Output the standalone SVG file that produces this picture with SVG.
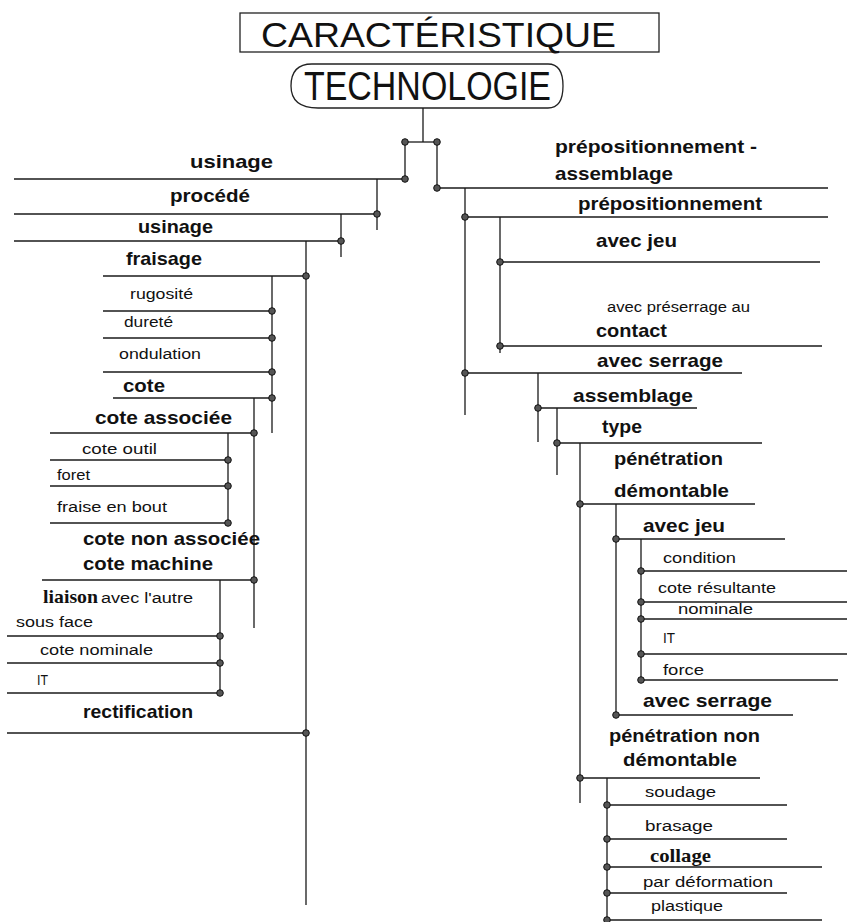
<svg xmlns="http://www.w3.org/2000/svg" width="847" height="922" viewBox="0 0 847 922">
<style>
.b{font-family:"Liberation Sans",Arial,sans-serif;font-weight:bold;font-size:18.5px;fill:#111}
.r{font-family:"Liberation Sans",Arial,sans-serif;font-size:15.5px;fill:#111}
.s{font-family:"Liberation Serif","Times New Roman",serif;font-weight:bold;font-size:19px;fill:#111}
.t{font-family:"Liberation Sans",Arial,sans-serif;fill:#111}
#connectors line{stroke:#1a1a1a;stroke-width:1.3}
#connectors circle{fill:#555;stroke:#111;stroke-width:1}
</style>
<rect width="847" height="922" fill="#fff"/>
<g id="title">
<rect x="240" y="13" width="419" height="39" fill="none" stroke="#222" stroke-width="1.3"/>
<text class="t" x="261" y="47" font-size="35" textLength="355" lengthAdjust="spacingAndGlyphs">CARACTÉRISTIQUE</text>
</g>
<g id="technologie">
<path d="M312,64 H548 Q563,64 563,86 Q563,108 548,108 H318 Q291,108 291,86 Q291,64 312,64 Z" fill="none" stroke="#222" stroke-width="1.3"/>
<text class="t" x="304" y="100" font-size="40" textLength="247" lengthAdjust="spacingAndGlyphs">TECHNOLOGIE</text>
</g>
<g id="connectors">
<line x1="423" y1="108" x2="423" y2="142"/>
<line x1="405" y1="142" x2="437" y2="142"/>
<line x1="405" y1="142" x2="405" y2="179"/>
<line x1="14" y1="179" x2="405" y2="179"/>
<line x1="14" y1="214" x2="377" y2="214"/>
<line x1="14" y1="241" x2="341" y2="241"/>
<line x1="103" y1="276" x2="306" y2="276"/>
<line x1="103" y1="311" x2="272" y2="311"/>
<line x1="103" y1="338" x2="272" y2="338"/>
<line x1="103" y1="372" x2="272" y2="372"/>
<line x1="113" y1="398" x2="272" y2="398"/>
<line x1="50" y1="433" x2="254" y2="433"/>
<line x1="50" y1="460" x2="228" y2="460"/>
<line x1="50" y1="486" x2="228" y2="486"/>
<line x1="50" y1="523" x2="228" y2="523"/>
<line x1="42" y1="580" x2="254" y2="580"/>
<line x1="7" y1="636" x2="220" y2="636"/>
<line x1="7" y1="663" x2="220" y2="663"/>
<line x1="7" y1="693" x2="220" y2="693"/>
<line x1="7" y1="733" x2="306" y2="733"/>
<line x1="377" y1="179" x2="377" y2="230"/>
<line x1="341" y1="214" x2="341" y2="257"/>
<line x1="306" y1="241" x2="306" y2="905"/>
<line x1="272" y1="276" x2="272" y2="433"/>
<line x1="254" y1="398" x2="254" y2="628"/>
<line x1="228" y1="433" x2="228" y2="523"/>
<line x1="220" y1="580" x2="220" y2="694"/>
<line x1="437" y1="142" x2="437" y2="188"/>
<line x1="437" y1="188" x2="828" y2="188"/>
<line x1="465" y1="188" x2="465" y2="415"/>
<line x1="465" y1="217" x2="828" y2="217"/>
<line x1="500" y1="217" x2="500" y2="353"/>
<line x1="500" y1="262" x2="820" y2="262"/>
<line x1="500" y1="346" x2="822" y2="346"/>
<line x1="465" y1="373" x2="742" y2="373"/>
<line x1="538" y1="373" x2="538" y2="442"/>
<line x1="538" y1="408" x2="697" y2="408"/>
<line x1="557" y1="408" x2="557" y2="475"/>
<line x1="557" y1="443" x2="762" y2="443"/>
<line x1="580" y1="443" x2="580" y2="803"/>
<line x1="580" y1="504" x2="755" y2="504"/>
<line x1="616" y1="504" x2="616" y2="715"/>
<line x1="616" y1="539" x2="785" y2="539"/>
<line x1="641" y1="539" x2="641" y2="680"/>
<line x1="641" y1="571" x2="847" y2="571"/>
<line x1="641" y1="602" x2="847" y2="602"/>
<line x1="641" y1="619" x2="847" y2="619"/>
<line x1="641" y1="654" x2="847" y2="654"/>
<line x1="641" y1="680" x2="838" y2="680"/>
<line x1="616" y1="715" x2="793" y2="715"/>
<line x1="580" y1="778" x2="760" y2="778"/>
<line x1="607" y1="778" x2="607" y2="922"/>
<line x1="607" y1="805" x2="787" y2="805"/>
<line x1="607" y1="839" x2="787" y2="839"/>
<line x1="607" y1="867" x2="822" y2="867"/>
<line x1="607" y1="893" x2="787" y2="893"/>
<line x1="607" y1="920" x2="822" y2="920"/>
<circle cx="405" cy="142" r="3.3"/><circle cx="437" cy="142" r="3.3"/>
<circle cx="405" cy="179" r="3.3"/><circle cx="377" cy="214" r="3.3"/>
<circle cx="341" cy="241" r="3.3"/><circle cx="306" cy="276" r="3.3"/>
<circle cx="272" cy="311" r="3.3"/><circle cx="272" cy="338" r="3.3"/>
<circle cx="272" cy="372" r="3.3"/><circle cx="272" cy="398" r="3.3"/>
<circle cx="254" cy="433" r="3.3"/><circle cx="228" cy="460" r="3.3"/>
<circle cx="228" cy="486" r="3.3"/><circle cx="228" cy="523" r="3.3"/>
<circle cx="254" cy="580" r="3.3"/><circle cx="220" cy="636" r="3.3"/>
<circle cx="220" cy="663" r="3.3"/><circle cx="220" cy="693" r="3.3"/>
<circle cx="306" cy="733" r="3.3"/>
<circle cx="437" cy="188" r="3.3"/><circle cx="465" cy="217" r="3.3"/>
<circle cx="500" cy="262" r="3.3"/><circle cx="500" cy="346" r="3.3"/>
<circle cx="465" cy="373" r="3.3"/><circle cx="538" cy="408" r="3.3"/>
<circle cx="557" cy="443" r="3.3"/><circle cx="580" cy="504" r="3.3"/>
<circle cx="616" cy="539" r="3.3"/><circle cx="641" cy="571" r="3.3"/>
<circle cx="641" cy="602" r="3.3"/><circle cx="641" cy="619" r="3.3"/>
<circle cx="641" cy="654" r="3.3"/><circle cx="641" cy="680" r="3.3"/>
<circle cx="616" cy="715" r="3.3"/><circle cx="580" cy="778" r="3.3"/>
<circle cx="607" cy="805" r="3.3"/><circle cx="607" cy="839" r="3.3"/>
<circle cx="607" cy="867" r="3.3"/><circle cx="607" cy="893" r="3.3"/>
<circle cx="607" cy="920" r="3.3"/>
</g>
<g id="n-usinage1"><text class="b" x="190" y="168" textLength="83" lengthAdjust="spacingAndGlyphs">usinage</text></g>
<g id="n-procede"><text class="b" x="170" y="202" textLength="80" lengthAdjust="spacingAndGlyphs">procédé</text></g>
<g id="n-usinage2"><text class="b" x="138" y="233" textLength="75" lengthAdjust="spacingAndGlyphs">usinage</text></g>
<g id="n-fraisage"><text class="b" x="126" y="265" textLength="76" lengthAdjust="spacingAndGlyphs">fraisage</text></g>
<g id="n-rugosite"><text class="r" x="130" y="299" textLength="63" lengthAdjust="spacingAndGlyphs">rugosité</text></g>
<g id="n-durete"><text class="r" x="124" y="327" textLength="49" lengthAdjust="spacingAndGlyphs">dureté</text></g>
<g id="n-ondulation"><text class="r" x="119" y="359" textLength="82" lengthAdjust="spacingAndGlyphs">ondulation</text></g>
<g id="n-cote"><text class="b" x="123" y="392" textLength="42" lengthAdjust="spacingAndGlyphs">cote</text></g>
<g id="n-cote-associee"><text class="b" x="95" y="424" textLength="137" lengthAdjust="spacingAndGlyphs">cote associée</text></g>
<g id="n-cote-outil"><text class="r" x="82" y="454" textLength="75" lengthAdjust="spacingAndGlyphs">cote outil</text></g>
<g id="n-foret"><text class="r" x="57" y="480" textLength="33" lengthAdjust="spacingAndGlyphs">foret</text></g>
<g id="n-fraise-en-bout"><text class="r" x="57" y="512" textLength="110" lengthAdjust="spacingAndGlyphs">fraise en bout</text></g>
<g id="n-cote-non-associee"><text class="b" x="83" y="545" textLength="177" lengthAdjust="spacingAndGlyphs">cote non associée</text></g>
<g id="n-cote-machine"><text class="b" x="83" y="570" textLength="130" lengthAdjust="spacingAndGlyphs">cote machine</text></g>
<g id="n-liaison"><text class="s" x="43" y="603" textLength="55" lengthAdjust="spacingAndGlyphs">liaison</text><text class="r" x="101" y="603" textLength="92" lengthAdjust="spacingAndGlyphs">avec l'autre</text><text class="r" x="16" y="627" textLength="77" lengthAdjust="spacingAndGlyphs">sous face</text></g>
<g id="n-cote-nominale"><text class="r" x="40" y="655" textLength="113" lengthAdjust="spacingAndGlyphs">cote nominale</text></g>
<g id="n-it1"><text class="r" x="37" y="685" textLength="11" lengthAdjust="spacingAndGlyphs">IT</text></g>
<g id="n-rectification"><text class="b" x="83" y="718" textLength="110" lengthAdjust="spacingAndGlyphs">rectification</text></g>
<g id="n-prepos-assemblage"><text class="b" x="555" y="153" textLength="202" lengthAdjust="spacingAndGlyphs">prépositionnement -</text><text class="b" x="555" y="180" textLength="118" lengthAdjust="spacingAndGlyphs">assemblage</text></g>
<g id="n-prepositionnement"><text class="b" x="578" y="210" textLength="184" lengthAdjust="spacingAndGlyphs">prépositionnement</text></g>
<g id="n-avec-jeu1"><text class="b" x="596" y="247" textLength="81" lengthAdjust="spacingAndGlyphs">avec jeu</text></g>
<g id="n-preserrage"><text class="r" x="607" y="312" textLength="143" lengthAdjust="spacingAndGlyphs">avec préserrage au</text><text class="b" x="596" y="337" textLength="71" lengthAdjust="spacingAndGlyphs">contact</text></g>
<g id="n-avec-serrage1"><text class="b" x="597" y="367" textLength="126" lengthAdjust="spacingAndGlyphs">avec serrage</text></g>
<g id="n-assemblage"><text class="b" x="573" y="402" textLength="120" lengthAdjust="spacingAndGlyphs">assemblage</text></g>
<g id="n-type"><text class="b" x="602" y="433" textLength="40" lengthAdjust="spacingAndGlyphs">type</text></g>
<g id="n-penetration-demontable"><text class="b" x="614" y="465" textLength="109" lengthAdjust="spacingAndGlyphs">pénétration</text><text class="b" x="614" y="497" textLength="115" lengthAdjust="spacingAndGlyphs">démontable</text></g>
<g id="n-avec-jeu2"><text class="b" x="643" y="532" textLength="82" lengthAdjust="spacingAndGlyphs">avec jeu</text></g>
<g id="n-condition"><text class="r" x="663" y="563" textLength="73" lengthAdjust="spacingAndGlyphs">condition</text></g>
<g id="n-cote-resultante"><text class="r" x="658" y="593" textLength="118" lengthAdjust="spacingAndGlyphs">cote résultante</text></g>
<g id="n-nominale"><text class="r" x="678" y="614" textLength="75" lengthAdjust="spacingAndGlyphs">nominale</text></g>
<g id="n-it2"><text class="r" x="663" y="643" textLength="12" lengthAdjust="spacingAndGlyphs">IT</text></g>
<g id="n-force"><text class="r" x="663" y="675" textLength="41" lengthAdjust="spacingAndGlyphs">force</text></g>
<g id="n-avec-serrage2"><text class="b" x="643" y="707" textLength="129" lengthAdjust="spacingAndGlyphs">avec serrage</text></g>
<g id="n-penetration-non-demontable"><text class="b" x="609" y="742" textLength="151" lengthAdjust="spacingAndGlyphs">pénétration non</text><text class="b" x="623" y="766" textLength="114" lengthAdjust="spacingAndGlyphs">démontable</text></g>
<g id="n-soudage"><text class="r" x="645" y="797" textLength="71" lengthAdjust="spacingAndGlyphs">soudage</text></g>
<g id="n-brasage"><text class="r" x="645" y="831" textLength="68" lengthAdjust="spacingAndGlyphs">brasage</text></g>
<g id="n-collage"><text class="s" x="650" y="862" textLength="61" lengthAdjust="spacingAndGlyphs">collage</text></g>
<g id="n-par-deformation"><text class="r" x="643" y="887" textLength="130" lengthAdjust="spacingAndGlyphs">par déformation</text><text class="r" x="651" y="911" textLength="72" lengthAdjust="spacingAndGlyphs">plastique</text></g>
</svg>
